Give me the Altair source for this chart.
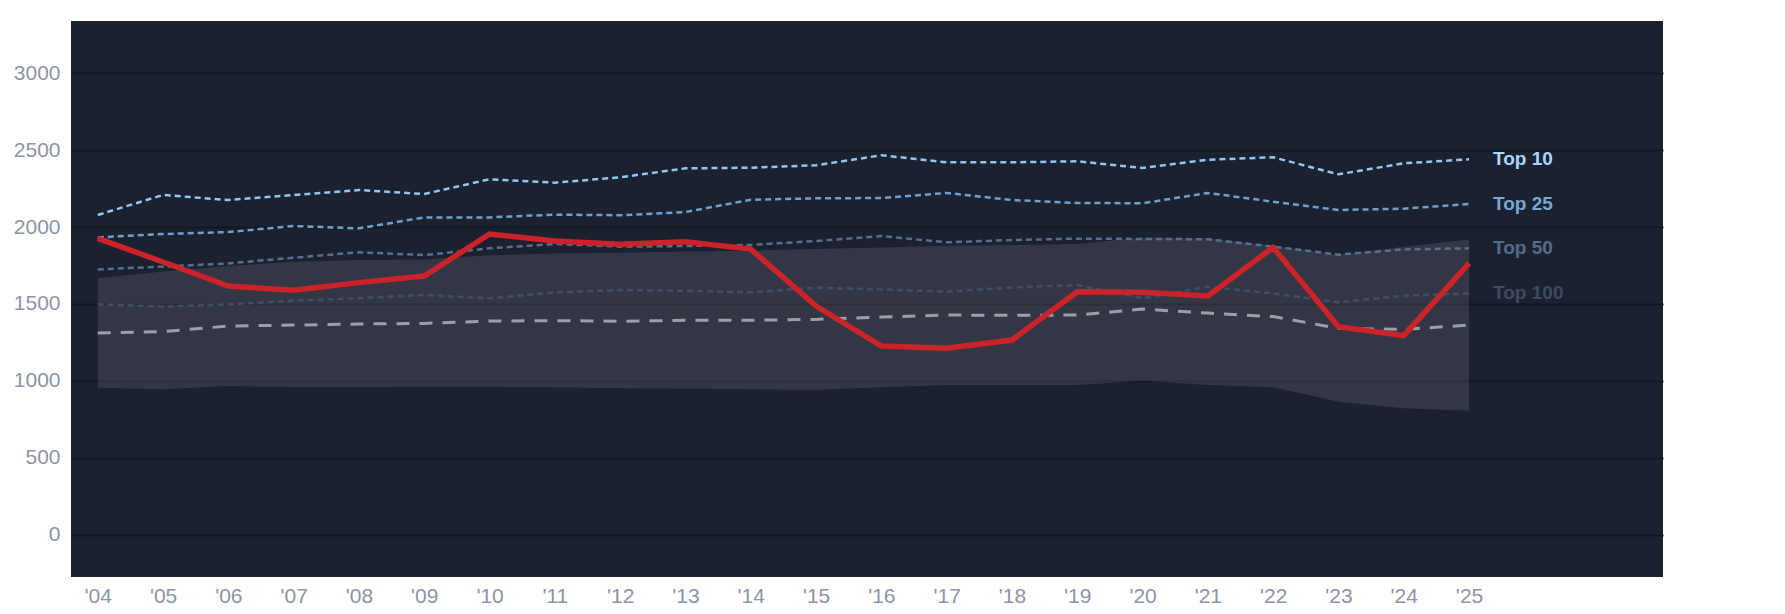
import altair as alt
import pandas as pd

years = list(range(2004, 2026))

top10 = [2079, 2209, 2176, 2209, 2241, 2215, 2311, 2289, 2324, 2382, 2386,
         2402, 2467, 2421, 2421, 2428, 2384, 2438, 2454, 2343, 2415, 2441]
top25 = [1933, 1955, 1968, 2007, 1992, 2063, 2063, 2081, 2077, 2098, 2178,
         2187, 2189, 2222, 2176, 2157, 2155, 2222, 2165, 2111, 2120, 2150]
top50 = [1725, 1743, 1764, 1801, 1836, 1818, 1862, 1890, 1873, 1877, 1884,
         1910, 1942, 1901, 1916, 1925, 1923, 1921, 1873, 1821, 1855, 1862]
top100 = [1498, 1483, 1497, 1522, 1537, 1559, 1537, 1576, 1591, 1586, 1576,
          1606, 1595, 1580, 1608, 1623, 1537, 1612, 1569, 1511, 1554, 1569]
median = [1311, 1320, 1357, 1363, 1370, 1374, 1389, 1392, 1388, 1394, 1394,
          1400, 1415, 1428, 1427, 1428, 1467, 1441, 1418, 1342, 1335, 1363]
band_hi = [1667, 1711, 1747, 1775, 1786, 1790, 1817, 1829, 1834, 1842, 1847,
           1857, 1868, 1879, 1883, 1890, 1933, 1926, 1880, 1818, 1873, 1920]
band_lo = [956, 945, 967, 960, 960, 962, 962, 958, 952, 950, 945,
           943, 958, 973, 973, 973, 1001, 973, 958, 865, 822, 806]
team = [1927, 1773, 1617, 1589, 1639, 1682, 1955, 1910, 1888, 1905, 1857,
        1487, 1227, 1212, 1266, 1580, 1576, 1552, 1868, 1352, 1294, 1764]

label_names = ["Top 10", "Top 25", "Top 50", "Top 100"]
label_values = [top10[-1], top25[-1], top50[-1], top100[-1]]
label_colors = ["#a9d5fb", "#76a8d4", "#566b8a", "#3e4a62"]

df = pd.DataFrame({
    "year": years, "top10": top10, "top25": top25, "top50": top50,
    "top100": top100, "median": median, "lo": band_lo, "hi": band_hi,
    "team": team,
})
labels = pd.DataFrame({
    "year": [years[-1]] * 4, "value": label_values,
    "name": label_names, "color": label_colors,
})

xscale = alt.Scale(domain=[2003.59, 2027.97], nice=False, zero=False)
yscale = alt.Scale(domain=[-275, 3340], nice=False, zero=False)

xenc = alt.X("year:Q", scale=xscale, title=None,
             axis=alt.Axis(values=years, grid=False, domain=False, ticks=False,
                           labelExpr="\"'\" + slice(toString(datum.value), 2)",
                           labelPadding=8, labelFontSize=21,
                           labelColor="#8c94a6", labelFont="Liberation Sans"))

base = alt.Chart(df)

band = base.mark_area(color="white", opacity=0.1).encode(
    x=xenc,
    y=alt.Y("lo:Q", scale=yscale, title=None,
            axis=alt.Axis(values=[0, 500, 1000, 1500, 2000, 2500, 3000],
                          format="d", grid=True, gridColor="#141823",
                          gridWidth=2, domain=False, ticks=False,
                          labelPadding=11, labelFontSize=21,
                          labelColor="#8c94a6", labelFont="Liberation Sans")),
    y2="hi:Q",
)


def line(field, color, dash, width):
    mark = {"color": color, "strokeWidth": width}
    if dash:
        mark["strokeDash"] = dash
    return base.mark_line(**mark).encode(
        x=alt.X("year:Q", scale=xscale),
        y=alt.Y(f"{field}:Q", scale=yscale),
    )


l_med = line("median", "#9aa0aa", [13, 10], 3)
l100 = line("top100", "#3f4d68", [6, 4], 2.5)
l50 = line("top50", "#566f91", [6, 4], 2.5)
l25 = line("top25", "#6f9fcf", [6, 4], 2.5)
l10 = line("top10", "#90c6f5", [6, 4], 2.5)
l_team = line("team", "#cc2229", None, 5.5)

text = alt.Chart(labels).mark_text(
    align="left", baseline="middle", dx=24, fontSize=19, fontWeight="bold",
    font="Liberation Sans",
).encode(
    x=alt.X("year:Q", scale=xscale),
    y=alt.Y("value:Q", scale=yscale),
    text="name:N",
    color=alt.Color("color:N", scale=None),
)

chart = alt.layer(band, l_med, l100, l50, l25, l10, l_team, text).properties(
    width=1592, height=556,
    padding={"left": 5, "top": 13, "right": 5, "bottom": 5},
    background="white",
).configure_view(fill="#1c2130", stroke=None)

chart.save("out.html", embed_options={"renderer": "svg", "actions": False})
